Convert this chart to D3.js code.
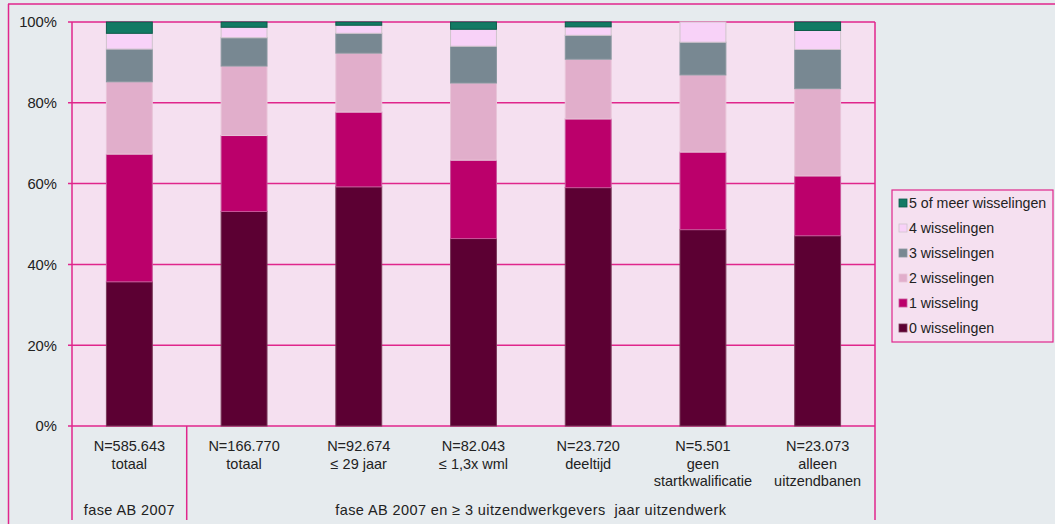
<!DOCTYPE html>
<html><head><meta charset="utf-8">
<script src="https://cdn.jsdelivr.net/npm/d3@7"></script>
<style>
html,body{margin:0;padding:0;background:#e6ebee;}
svg{display:block;font-family:"Liberation Sans",Arial,sans-serif;}
</style></head>
<body>
<svg id="c" width="1055" height="524"></svg>
<script>
const categories = ["c1","c2","c3","c4","c5","c6","c7"];
const catLabels = [
  ["N=585.643","totaal"],
  ["N=166.770","totaal"],
  ["N=92.674","≤ 29 jaar"],
  ["N=82.043","≤ 1,3x wml"],
  ["N=23.720","deeltijd"],
  ["N=5.501","geen","startkwalificatie"],
  ["N=23.073","alleen","uitzendbanen"]
];
const groupLabels = ["fase AB 2007","fase AB 2007 en ≥ 3 uitzendwerkgevers  jaar uitzendwerk"];
const seriesNames = ["0 wisselingen","1 wisseling","2 wisselingen","3 wisselingen","4 wisselingen","5 of meer wisselingen"];
const s0 = [35.7, 53.1, 59.2, 46.4, 59.0, 48.6, 47.1];
const s1 = [31.6, 18.8, 18.5, 19.4, 17.0, 19.2, 14.8];
const s2 = [17.9, 17.2, 14.6, 19.1, 14.8, 19.1, 21.6];
const s3 = [8.1, 7.0, 4.9, 9.1, 5.9, 8.1, 9.7];
const s4 = [3.9, 2.6, 2.0, 4.2, 2.1, 5.0, 4.7];
const s5 = [2.8, 1.3, 0.8, 1.8, 1.2, 0.0, 2.1];
const yTicks = [0, 20, 40, 60, 80, 100];

const colors = ["#5c0033","#bb006b","#e1aecb","#788892","#f8d2f8","#127a64"];
const strokes = ["#7a3a5a","#c8559a","#e8c4d8","#8a98a0","#cfc4cc","#0d5a4a"];
const PINK = "#e0268c";

const svg = d3.select("#c");
const L = 72, R = 875, T = 22, B = 426;

// outer frame lines
svg.append("line").attr("x1",8).attr("x2",1055).attr("y1",4).attr("y2",4).attr("stroke",PINK).attr("stroke-width",1.5);
svg.append("line").attr("x1",8.5).attr("x2",8.5).attr("y1",4).attr("y2",524).attr("stroke",PINK).attr("stroke-width",1.5);

// plot background
svg.append("rect").attr("x",L).attr("y",T).attr("width",R-L).attr("height",B-T).attr("fill","#f5e0f0");

const x = d3.scaleBand().domain(categories).range([L,R]).paddingInner(0.6).paddingOuter(0.3);
const y = d3.scaleLinear().domain([0,100]).range([B,T]);

// gridlines
svg.append("g").selectAll("line").data(yTicks).join("line")
  .attr("x1",L-4).attr("x2",R).attr("y1",d=>y(d)).attr("y2",d=>y(d))
  .attr("stroke",PINK).attr("stroke-width",1.5);

// y axis labels
svg.append("g").selectAll("text").data(yTicks).join("text")
  .attr("x",57).attr("y",d=>y(d)).attr("dy","0.36em").attr("text-anchor","end")
  .attr("font-size",14.8).attr("fill","#222").text(d=>d+"%");

// stacked data
const rows = categories.map((c,i)=>({cat:c, s0:s0[i], s1:s1[i], s2:s2[i], s3:s3[i], s4:s4[i], s5:s5[i]}));
const keys = ["s0","s1","s2","s3","s4","s5"];
const stacked = d3.stack().keys(keys)(rows);

svg.append("g").selectAll("g").data(stacked).join("g")
  .attr("fill",(d,i)=>colors[i]).attr("stroke",(d,i)=>strokes[i]).attr("stroke-width",1)
  .selectAll("rect").data(d=>d).join("rect")
  .attr("x",d=>x(d.data.cat)).attr("width",x.bandwidth())
  .attr("y",d=>y(d[1])).attr("height",d=>Math.max(0,y(d[0])-y(d[1])))
  .attr("display",d=>(d[1]-d[0])>0?null:"none");

// plot border (left/right)
svg.append("line").attr("x1",L).attr("x2",L).attr("y1",T).attr("y2",520).attr("stroke",PINK).attr("stroke-width",1.5);
svg.append("line").attr("x1",R).attr("x2",R).attr("y1",T).attr("y2",520).attr("stroke",PINK).attr("stroke-width",1.5);
// divider between groups
const divX = L + x.step()*1;
svg.append("line").attr("x1",divX).attr("x2",divX).attr("y1",B).attr("y2",520).attr("stroke",PINK).attr("stroke-width",1.5);

// category labels
const cl = svg.append("g");
categories.forEach((c,i)=>{
  const t = cl.append("text").attr("text-anchor","middle").attr("font-size",14.5).attr("fill","#222");
  catLabels[i].forEach((ln,j)=>{
    t.append("tspan").attr("x",x(c)+x.bandwidth()/2).attr("y",451+j*17.5).text(ln);
  });
});

// group labels
svg.append("text").attr("x",(L+divX)/2).attr("y",515).attr("text-anchor","middle").attr("font-size",14.5).attr("letter-spacing",0.4).attr("fill","#222").text(groupLabels[0]);
svg.append("text").attr("x",(divX+R)/2).attr("y",515).attr("text-anchor","middle").attr("font-size",14.5).attr("letter-spacing",0.4).attr("fill","#222").style("white-space","pre").text(groupLabels[1]);

// legend
const lg = svg.append("g");
lg.append("rect").attr("x",892).attr("y",190).attr("width",161).attr("height",152).attr("fill","#f5e0f0").attr("stroke",PINK).attr("stroke-width",1.2);
const legOrder = [5,4,3,2,1,0];
legOrder.forEach((k,j)=>{
  const cy = 203 + j*25;
  lg.append("rect").attr("x",899).attr("y",cy-4).attr("width",8).attr("height",8)
    .attr("fill",colors[k]).attr("stroke",strokes[k]).attr("stroke-width",0.8);
  lg.append("text").attr("x",909).attr("y",cy).attr("dy","0.36em").attr("font-size",14.2).attr("fill","#222").text(seriesNames[k]);
});
</script>
</body></html>
